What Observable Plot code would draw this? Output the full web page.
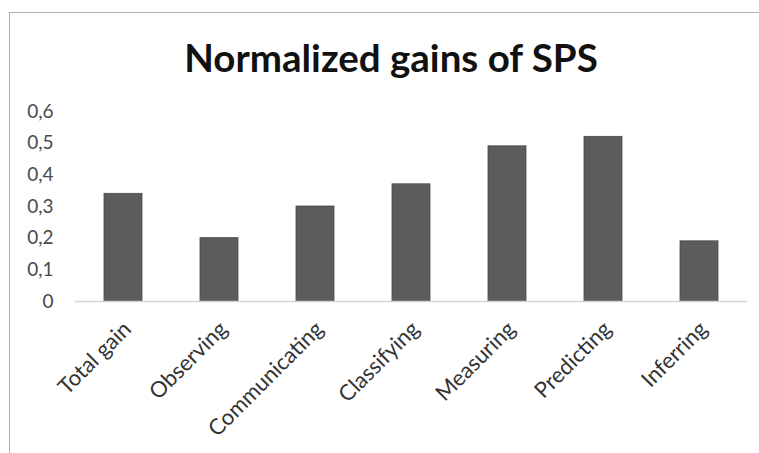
<!DOCTYPE html>
<html>
<head>
<meta charset="utf-8">
<script src="https://cdn.jsdelivr.net/npm/d3@7"></script>
<script src="https://cdn.jsdelivr.net/npm/@observablehq/plot@0.6"></script>
<style>
  body { margin: 0; background: #fff; }
  #wrap { position: relative; width: 759px; height: 453px; overflow: hidden; background: #fff; }
  #frame { position: absolute; left: 9px; top: 12px; width: 760px; height: 460px;
           border-top: 1.5px solid #b0b0b0; border-left: 1.5px solid #b0b0b0; }
  #title { position: absolute; left: 0; width: 782px; top: 38px; text-align: center; line-height: 1;
           font-family: Lato, "Open Sans", sans-serif; font-weight: bold; font-size: 38.5px; color: #111; }
  #chart { position: absolute; left: 0; top: 0; }
</style>
</head>
<body>
<div id="wrap">
  <div id="frame"></div>
  <div id="title">Normalized gains of SPS</div>
  <div id="chart"></div>
</div>
<script>
const categories = ["Total gain", "Observing", "Communicating", "Classifying", "Measuring", "Predicting", "Inferring"];
const values = [0.34, 0.20, 0.30, 0.37, 0.49, 0.52, 0.19];
const yTicks = [0, 0.1, 0.2, 0.3, 0.4, 0.5, 0.6];

const data = categories.map((c, i) => ({category: c, value: values[i]}));
const fmt = v => v === 0 ? "0" : String(v).replace(".", ",");

const plot = Plot.plot({
  width: 759,
  height: 453,
  marginLeft: 75,
  marginRight: 12,
  marginTop: 111,
  marginBottom: 152,
  style: {fontFamily: "Lato, 'Open Sans', sans-serif", background: "transparent"},
  x: {domain: categories, paddingInner: 0.6, paddingOuter: 0.3, label: null},
  y: {domain: [0, 0.6], label: null},
  marks: [
    Plot.barY(data, {x: "category", y: "value", fill: "#5c5c5c", stroke: "#4a4a4a", strokeWidth: 0.8}),
    Plot.ruleY([0], {stroke: "#d4d4d4", strokeWidth: 1.5}),
    Plot.ruleX([0], {frameAnchor: "left", y1: 0, y2: 0.6, stroke: "#d4d4d4", strokeWidth: 1.5}),
    Plot.axisY(yTicks, {tickSize: 0, tickPadding: 22, tickFormat: fmt, fontSize: 19, fill: "#4a4a4a", label: null}),
    Plot.axisX({tickSize: 0, tickRotate: -45, tickPadding: 24, fontSize: 22, fill: "#333", label: null, dx: 4})
  ]
});
document.getElementById("chart").appendChild(plot);
</script>
</body>
</html>
